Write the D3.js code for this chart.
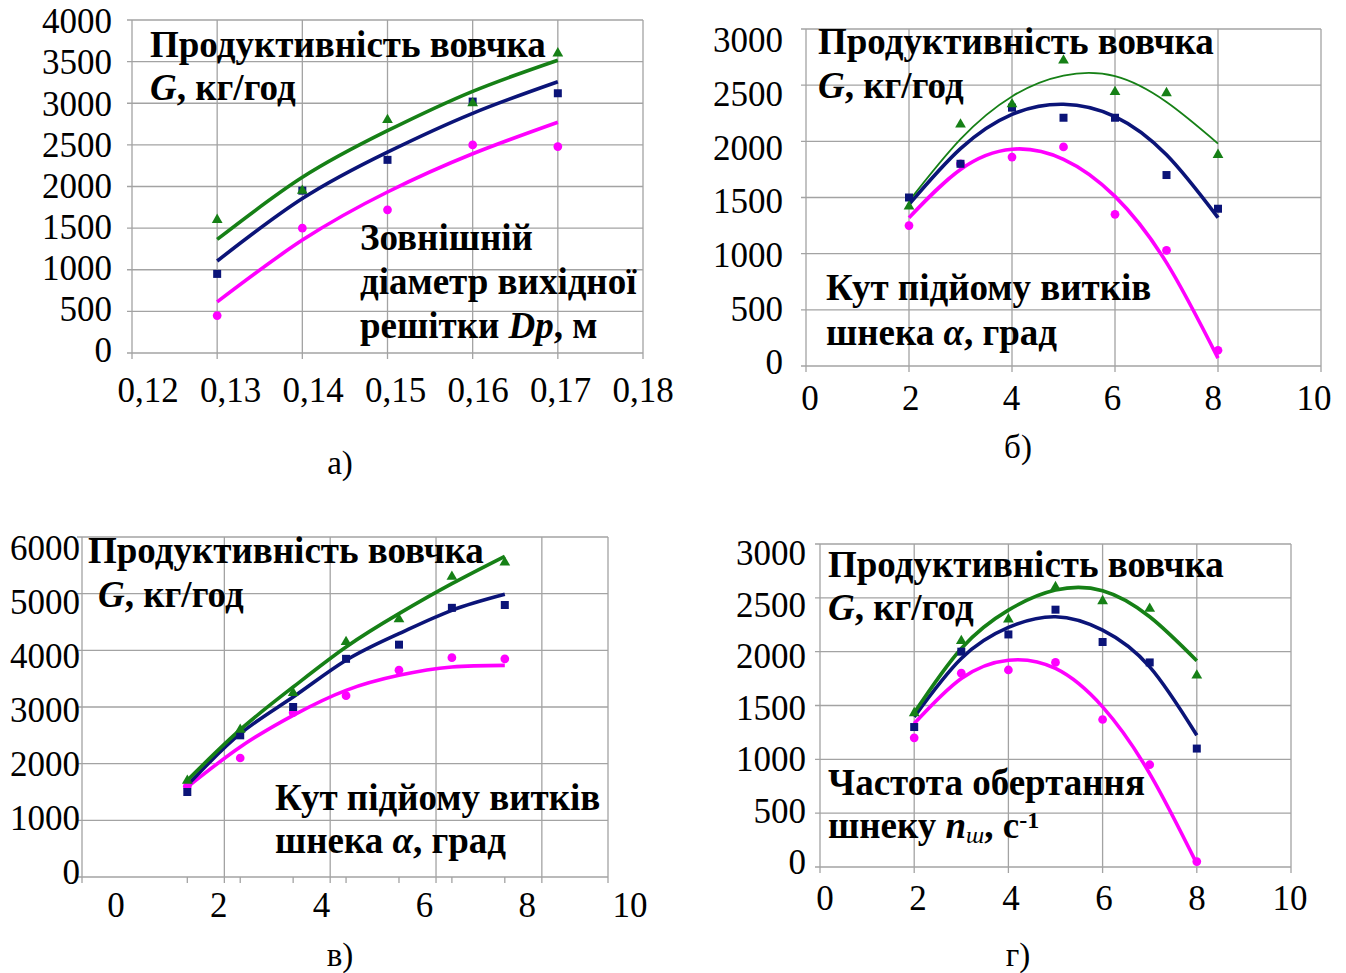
<!DOCTYPE html>
<html>
<head>
<meta charset="utf-8">
<script src="https://cdn.jsdelivr.net/npm/d3@7"></script>
<style>
  body { margin: 0; background: #fff; }
  svg { display: block; }
  .grid { stroke: #a3a3a3; stroke-width: 1.3; }
  .tick-label { font-family: 'Times New Roman', 'Liberation Serif', 'DejaVu Serif', serif; font-size: 35px; font-weight: normal; fill: #000; }
  .note { font-family: 'Times New Roman', 'Liberation Serif', 'DejaVu Serif', serif; font-size: 37px; font-weight: bold; fill: #000; }
  .caption { font-family: 'Times New Roman', 'Liberation Serif', 'DejaVu Serif', serif; font-size: 33px; font-weight: normal; fill: #000; }
</style>
</head>
<body>
<div id="chart"></div>
<script>
const width = 1346;
const height = 973;

// colours of the three series
const green = '#168016';
const navy = '#0b1478';
const magenta = '#ff00ff';

// а) outer diameter of the output grid, m
const aX = [0.13, 0.14, 0.15, 0.16, 0.17];
const aGreen = [1600, 1950, 2800, 3000, 3600];
const aBlue = [950, 1950, 2320, 3020, 3120];
const aMagenta = [450, 1500, 1720, 2500, 2480];
const aGreenTrend = [1364, 2110, 2670, 3143, 3517];
const aBlueTrend = [1105, 1855, 2413, 2879, 3258];
const aMagentaTrend = [614, 1356, 1934, 2393, 2772];
const aXTicks = [0.12, 0.13, 0.14, 0.15, 0.16, 0.17, 0.18];
const aYTicks = [0, 500, 1000, 1500, 2000, 2500, 3000, 3500, 4000];

// б) angle of the screw turns, deg
const bX = [2, 3, 4, 5, 6, 7, 8];
const bGreen = [1420, 2150, 2330, 2720, 2440, 2430, 1880];
const bBlue = [1500, 1800, 2300, 2210, 2210, 1700, 1400];
const bMagenta = [1250, 1800, 1860, 1950, 1350, 1030, 140];
const bGreenTrend = [1468, 2020, 2400, 2585, 2580, 2350, 1980];
const bBlueTrend = [1438, 1935, 2240, 2330, 2220, 1880, 1320];
const bMagentaTrend = [1320, 1750, 1930, 1840, 1510, 920, 70];
const bXTicks = [0, 2, 4, 6, 8, 10];
const bYTicks = [0, 500, 1000, 1500, 2000, 2500, 3000];

// в) angle of the screw turns, deg
const cX = [1.3, 2.3, 3.3, 4.3, 5.3, 6.3, 7.3];
const cGreen = [1700, 2600, 3250, 4150, 4550, 5300, 5550];
const cBlue = [1500, 2500, 3000, 3850, 4100, 4750, 4800];
const cMagenta = [1600, 2100, 2900, 3200, 3650, 3870, 3850];
const cGreenTrend = [1706, 2600, 3353, 4059, 4647, 5176, 5659];
const cBlueTrend = [1618, 2529, 3176, 3824, 4294, 4706, 4988];
const cMagentaTrend = [1588, 2294, 2853, 3294, 3559, 3706, 3735];
const cXTicks = [0, 2, 4, 6, 8, 10];
const cYTicks = [0, 1000, 2000, 3000, 4000, 5000, 6000];

// г) screw rotation frequency, 1/s
const dX = [2, 3, 4, 5, 6, 7, 8];
const dGreen = [1430, 2100, 2300, 2600, 2470, 2400, 1780];
const dBlue = [1300, 2000, 2160, 2390, 2090, 1900, 1100];
const dMagenta = [1200, 1800, 1830, 1900, 1370, 950, 50];
const dGreenTrend = [1432, 2030, 2386, 2572, 2566, 2324, 1915];
const dBlueTrend = [1394, 1937, 2225, 2324, 2200, 1859, 1224];
const dMagentaTrend = [1332, 1751, 1921, 1844, 1487, 868, 31];
const dXTicks = [0, 2, 4, 6, 8, 10];
const dYTicks = [0, 500, 1000, 1500, 2000, 2500, 3000];

const comma = (d) => d3.format('.2f')(d).replace('.', ',');

const svg = d3.select('#chart')
              .append('svg')
              .attr('width', width)
              .attr('height', height);

svg.append('rect')
   .attr('width', width)
   .attr('height', height)
   .attr('fill', '#fff');

function drawPanel(p) {
  const x = d3.scaleLinear().domain(p.xDomain).range([p.left, p.right]);
  const y = d3.scaleLinear().domain(p.yDomain).range([p.bottom, p.top]);
  // the tick labels of the original sit on a slightly squeezed row/column
  const lx = d3.scaleLinear().domain(p.xLabelDomain || p.xDomain).range(p.xLabelRange);
  const ly = d3.scaleLinear().domain(p.yDomain).range(p.yLabelRange);
  const g = svg.append('g');

  // horizontal grid lines and left ticks
  p.yTicks.forEach((t) => {
    g.append('line').attr('class', 'grid')
     .attr('x1', p.left - 5).attr('x2', p.right)
     .attr('y1', y(t)).attr('y2', y(t));
    g.append('text').attr('class', 'tick-label')
     .attr('x', p.left - p.yGap).attr('y', ly(t))
     .attr('dy', '0.35em').attr('text-anchor', 'end')
     .text(t);
  });

  // vertical grid lines (the y axis included)
  p.xGrid.forEach((t) => {
    g.append('line').attr('class', 'grid')
     .attr('x1', x(t)).attr('x2', x(t))
     .attr('y1', p.top).attr('y2', p.bottom + 6);
  });

  // small ticks under the x axis at the data points
  if (p.dataTicks) {
    p.xs.forEach((t) => {
      g.append('line').attr('class', 'grid')
       .attr('x1', x(t)).attr('x2', x(t))
       .attr('y1', p.bottom).attr('y2', p.bottom + 6);
    });
  }

  p.xTicks.forEach((t) => {
    g.append('text').attr('class', 'tick-label')
     .attr('x', lx(t)).attr('y', p.xLabelY)
     .attr('text-anchor', 'middle')
     .text(p.xFormat ? p.xFormat(t) : t);
  });

  // trend curves
  const line = d3.line()
                 .x((d, i) => x(p.xs[i]))
                 .y((d) => y(d))
                 .curve(d3.curveNatural);
  const trends = [
    [p.magentaTrend, magenta, 3.6],
    [p.blueTrend, navy, 3.6],
    [p.greenTrend, green, p.thinGreen ? 1.8 : 3.6]
  ];
  trends.forEach(([vals, color, w]) => {
    g.append('path')
     .attr('d', line(vals))
     .attr('fill', 'none')
     .attr('stroke', color)
     .attr('stroke-width', w);
  });

  // measured points
  const tri = d3.symbol().type(d3.symbolTriangle).size(50);
  const sq = d3.symbol().type(d3.symbolSquare).size(64);
  const circ = d3.symbol().type(d3.symbolCircle).size(60);
  const points = [
    [p.magenta, magenta, circ],
    [p.blue, navy, sq],
    [p.green, green, tri]
  ];
  points.forEach(([vals, color, sym]) => {
    g.selectAll(null)
     .data(vals)
     .enter()
     .append('path')
     .attr('d', sym)
     .attr('fill', color)
     .attr('transform', (d, i) => `translate(${x(p.xs[i])},${y(d)})`);
  });

  // notes inside the plot
  p.notes.forEach((n) => {
    const t = g.append('text').attr('class', 'note')
               .attr('x', n.x).attr('y', n.y);
    n.parts.forEach((part) => {
      const s = t.append('tspan').text(part.text);
      if (part.italic) s.attr('font-style', 'italic');
      if (part.sub) s.attr('baseline-shift', '-22%').attr('font-size', '24px').attr('font-weight', 'normal');
      if (part.sup) s.attr('baseline-shift', '40%').attr('font-size', '24px');
    });
  });

  svg.append('text').attr('class', 'caption')
     .attr('x', p.caption.x).attr('y', p.caption.y)
     .attr('text-anchor', 'middle')
     .text(p.caption.text);
}

const titleParts = [{text: 'Продуктивність вовчка'}];
const gParts = [{text: 'G', italic: true}, {text: ', кг/год'}];
const angleParts1 = [{text: 'Кут підйому витків'}];
const angleParts2 = [{text: 'шнека '}, {text: 'α', italic: true}, {text: ', град'}];

drawPanel({
  left: 132, right: 643, top: 20, bottom: 353,
  xDomain: [0.12, 0.18], yDomain: [0, 4000],
  xGrid: aXTicks, xTicks: aXTicks, yTicks: aYTicks, xFormat: comma,
  xLabelRange: [148, 643], yLabelRange: [350, 21],
  yGap: 20, xLabelY: 402,
  xs: aX, green: aGreen, blue: aBlue, magenta: aMagenta,
  greenTrend: aGreenTrend, blueTrend: aBlueTrend, magentaTrend: aMagentaTrend,
  notes: [
    {x: 150, y: 57, parts: titleParts},
    {x: 150, y: 100, parts: gParts},
    {x: 360, y: 250, parts: [{text: 'Зовнішній'}]},
    {x: 360, y: 294, parts: [{text: 'діаметр вихідної'}]},
    {x: 360, y: 338, parts: [{text: 'решітки '}, {text: 'Dp', italic: true}, {text: ', м'}]}
  ],
  caption: {x: 340, y: 474, text: 'а)'}
});

drawPanel({
  left: 806, right: 1321, top: 29, bottom: 366,
  xDomain: [0, 10], yDomain: [0, 3000],
  xGrid: bXTicks, xTicks: bXTicks, yTicks: bYTicks,
  xLabelRange: [810, 1314], yLabelRange: [362, 40],
  yGap: 23, xLabelY: 410,
  xs: bX, green: bGreen, blue: bBlue, magenta: bMagenta,
  greenTrend: bGreenTrend, blueTrend: bBlueTrend, magentaTrend: bMagentaTrend,
  thinGreen: true,
  notes: [
    {x: 818, y: 54, parts: titleParts},
    {x: 818, y: 98, parts: gParts},
    {x: 826, y: 300, parts: angleParts1},
    {x: 826, y: 345, parts: angleParts2}
  ],
  caption: {x: 1018, y: 458, text: 'б)'}
});

drawPanel({
  left: 82, right: 608, top: 537, bottom: 877,
  xDomain: [-0.69, 9.25], yDomain: [0, 6000],
  xGrid: [-0.69, 2, 4, 6, 8, 9.25], xTicks: cXTicks, yTicks: cYTicks,
  xLabelDomain: [0, 10], xLabelRange: [116, 630], yLabelRange: [872, 548],
  dataTicks: true,
  yGap: 2, xLabelY: 917,
  xs: cX, green: cGreen, blue: cBlue, magenta: cMagenta,
  greenTrend: cGreenTrend, blueTrend: cBlueTrend, magentaTrend: cMagentaTrend,
  notes: [
    {x: 88, y: 563, parts: titleParts},
    {x: 98, y: 607, parts: gParts},
    {x: 275, y: 810, parts: angleParts1},
    {x: 275, y: 853, parts: angleParts2}
  ],
  caption: {x: 340, y: 966, text: 'в)'}
});

drawPanel({
  left: 820, right: 1291, top: 544, bottom: 867,
  xDomain: [0, 10], yDomain: [0, 3000],
  xGrid: dXTicks, xTicks: dXTicks, yTicks: dYTicks,
  xLabelRange: [825, 1290], yLabelRange: [862, 553],
  yGap: 14, xLabelY: 910,
  xs: dX, green: dGreen, blue: dBlue, magenta: dMagenta,
  greenTrend: dGreenTrend, blueTrend: dBlueTrend, magentaTrend: dMagentaTrend,
  notes: [
    {x: 828, y: 577, parts: titleParts},
    {x: 828, y: 620, parts: gParts},
    {x: 828, y: 795, parts: [{text: 'Частота обертання'}]},
    {x: 828, y: 838, parts: [{text: 'шнеку '}, {text: 'n', italic: true}, {text: 'ш', italic: true, sub: true}, {text: ', с'}, {text: '-1', sup: true}]}
  ],
  caption: {x: 1018, y: 966, text: 'г)'}
});
</script>
</body>
</html>
